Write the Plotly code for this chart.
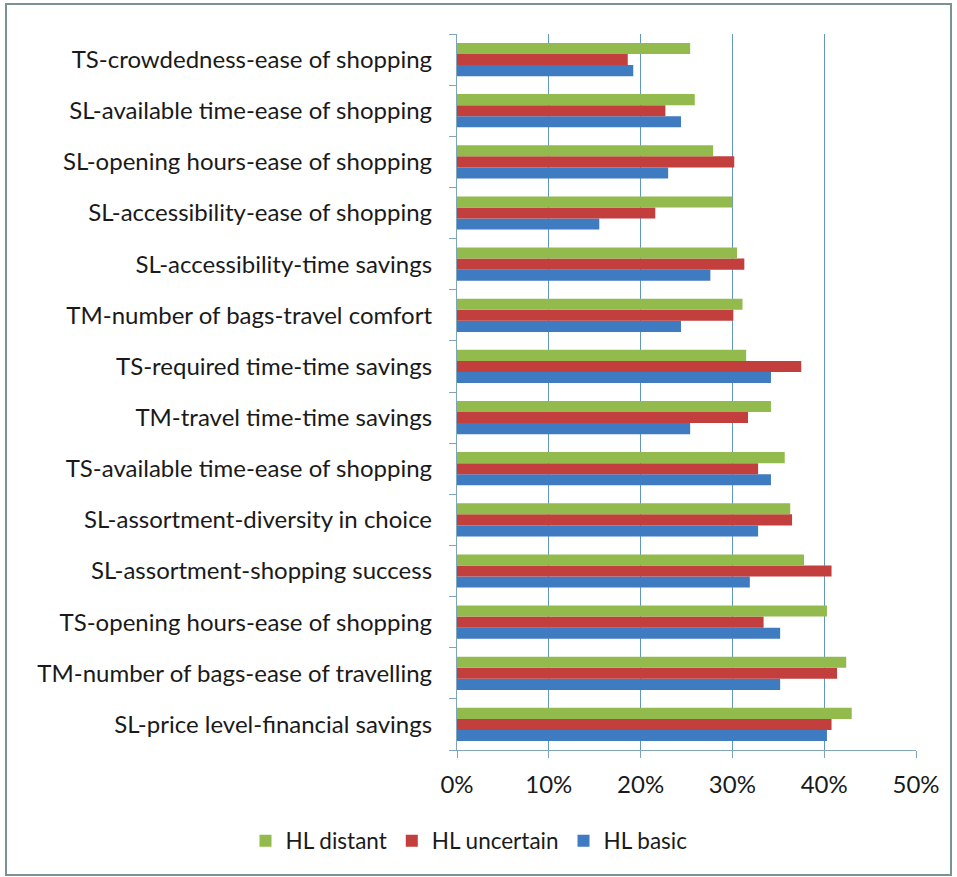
import plotly.graph_objects as go

# Categories listed from bottom to top of the chart
categories = [
    "SL-price level-financial savings",
    "TM-number of bags-ease of travelling",
    "TS-opening hours-ease of shopping",
    "SL-assortment-shopping success",
    "SL-assortment-diversity in choice",
    "TS-available time-ease of shopping",
    "TM-travel time-time savings",
    "TS-required time-time savings",
    "TM-number of bags-travel comfort",
    "SL-accessibility-time savings",
    "SL-accessibility-ease of shopping",
    "SL-opening hours-ease of shopping",
    "SL-available time-ease of shopping",
    "TS-crowdedness-ease of shopping",
]

hl_basic = [0.403, 0.352, 0.352, 0.319, 0.328, 0.342, 0.254, 0.342, 0.244, 0.276,
            0.155, 0.230, 0.244, 0.192]
hl_uncertain = [0.408, 0.414, 0.334, 0.408, 0.365, 0.328, 0.317, 0.375, 0.301, 0.313,
                0.216, 0.302, 0.227, 0.186]
hl_distant = [0.430, 0.424, 0.403, 0.378, 0.363, 0.357, 0.342, 0.315, 0.311, 0.305,
              0.300, 0.279, 0.259, 0.254]

x_ticks = [0, 0.1, 0.2, 0.3, 0.4, 0.5]

series = [
    ("HL basic", hl_basic, "#3F7BC0"),
    ("HL uncertain", hl_uncertain, "#C23F3D"),
    ("HL distant", hl_distant, "#92BA4C"),
]

fig = go.Figure()
for name, vals, color in series:
    fig.add_trace(go.Bar(
        y=categories, x=vals, name=name, orientation="h",
        marker=dict(color=color, line=dict(width=0)),
    ))

W, H = 957, 877
ml, mr, mt, mb = 457, 41, 34, 127
pw, ph = W - ml - mr, H - mt - mb

axis_col = "#7FA6B8"
grid_col = "#5F97C2"
text_col = "#1A1A1A"
font_family = "Lato, 'Open Sans', sans-serif"

fig.update_layout(
    width=W, height=H,
    margin=dict(l=ml, r=mr, t=mt, b=mb, pad=0),
    paper_bgcolor="white", plot_bgcolor="white",
    barmode="group", bargap=0.35, bargroupgap=0,
    font=dict(family=font_family, size=24, color=text_col),
    showlegend=True,
    legend=dict(
        orientation="h", traceorder="reversed",
        x=(469 - ml) / pw, xanchor="center",
        y=-(841 - (mt + ph)) / ph, yanchor="middle",
        font=dict(size=22.5, color=text_col),
        itemwidth=30, bgcolor="rgba(0,0,0,0)",
    ),
    xaxis=dict(
        range=[0, 0.5], tickvals=x_ticks, tickformat=".0%",
        showgrid=True, gridcolor=grid_col, gridwidth=1.3,
        zeroline=False, showline=True, linecolor=axis_col, linewidth=1.3,
        ticks="outside", ticklen=7, tickcolor=axis_col,
        ticklabelstandoff=6,
        tickfont=dict(size=24, color=text_col),
    ),
    yaxis=dict(
        type="category", categoryorder="array", categoryarray=categories,
        showgrid=False, zeroline=False,
        showline=True, linecolor=axis_col, linewidth=1.3,
        ticks="outside", ticklen=7, tickcolor=axis_col, tickson="boundaries",
        ticklabelstandoff=19,
        tickfont=dict(size=24, color=text_col),
    ),
)

# Outer frame around the whole chart
fig.add_shape(
    type="rect", xref="paper", yref="paper",
    x0=(6 - ml) / pw, x1=(951 - ml) / pw,
    y0=-(875 - (mt + ph)) / ph, y1=((mt + ph) - 4) / ph,
    line=dict(color="#7A9196", width=2), fillcolor="rgba(0,0,0,0)",
    layer="below",
)

fig.write_html("out.html")
